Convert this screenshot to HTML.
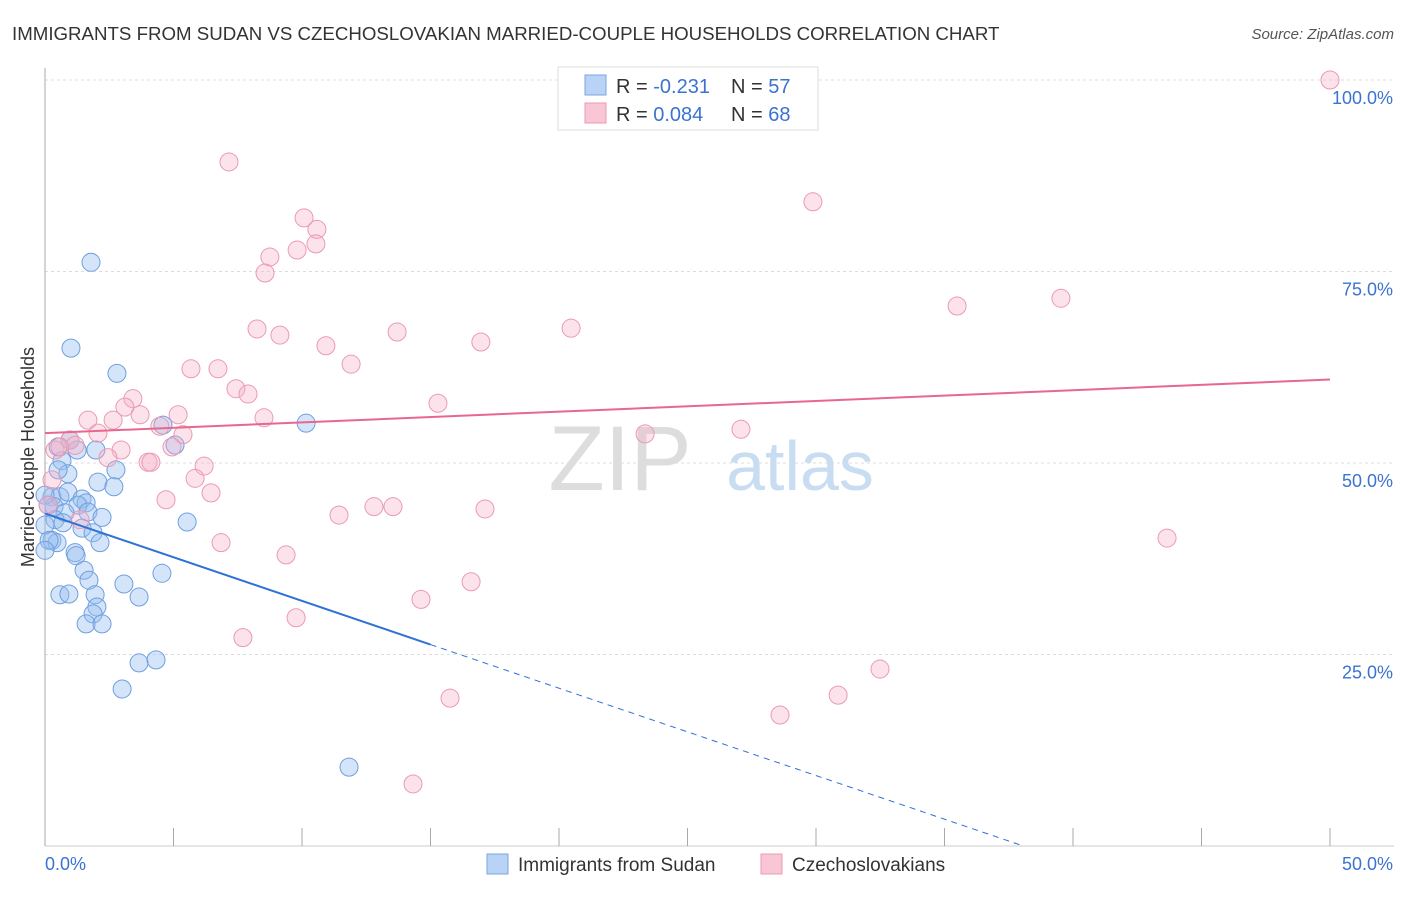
<!DOCTYPE html>
<html><head><meta charset="utf-8"><style>
body{margin:0;background:#fff;font-family:"Liberation Sans",sans-serif}
svg text{font-family:"Liberation Sans",sans-serif}
</style></head><body>
<svg width="1406" height="892">
<text x="12" y="40" font-size="18.7" fill="#333">IMMIGRANTS FROM SUDAN VS CZECHOSLOVAKIAN MARRIED-COUPLE HOUSEHOLDS CORRELATION CHART</text>
<text x="1394" y="39" font-size="15" fill="#555" font-style="italic" text-anchor="end">Source: ZipAtlas.com</text>
<g id="grid"></g>
<text x="620" y="490" font-size="92" fill="#ddd" font-family="Liberation Serif" text-anchor="middle">ZIP</text>
<text x="800" y="490" font-size="70" fill="#c8dcf2" text-anchor="middle">atlas</text>
<g id="marks"></g>
<text transform="translate(34,457) rotate(-90)" font-size="18" fill="#333" text-anchor="middle">Married-couple Households</text>
<g>
<rect x="558" y="67" width="260" height="63" fill="#fff" stroke="#ddd"/>
<rect x="585" y="75" width="21" height="20" fill="#b8d3f5" stroke="#7aa6e0"/>
<rect x="585" y="103" width="21" height="20" fill="#f9c6d5" stroke="#eb9ab2"/>
<text x="616" y="93" font-size="20" fill="#333">R = <tspan fill="#3a73d0">-0.231</tspan><tspan x="731">N = </tspan><tspan fill="#3a73d0">57</tspan></text>
<text x="616" y="121" font-size="20" fill="#333">R = <tspan fill="#3a73d0"> 0.084</tspan><tspan x="731">N = </tspan><tspan fill="#3a73d0">68</tspan></text>
</g>
<g>
<rect x="487" y="854" width="21" height="20" fill="#b8d3f5" stroke="#7aa6e0"/>
<text x="518" y="871" font-size="19" fill="#333">Immigrants from Sudan</text>
<rect x="761" y="854" width="21" height="20" fill="#f9c6d5" stroke="#eb9ab2"/>
<text x="792" y="871" font-size="19" fill="#333">Czechoslovakians</text>
</g>
</svg>
<script>
const yTicks=[25,50,75,100];
const yTickLabels=["25.0%","50.0%","75.0%","100.0%"];
const xTicks=[0,5,10,15,20,25,30,35,40,45,50];
const blueX=[1.79,1.01,2.80,10.16,4.59,5.06,1.25,1.98,0.66,2.76,0.89,2.06,2.68,0.27,0.58,0.89,1.44,1.60,1.28,0.35,1.67,0.78,0.39,0.70,1.44,1.87,2.14,0.27,0.47,1.17,1.21,5.53,1.52,1.71,3.07,4.55,0.58,0.93,1.95,3.66,2.02,1.87,1.60,2.22,3.66,4.32,3.00,11.83,0,0,0.12,0.51,0.97,0.16,0,2.22,0.51];
const blueY=[76.2,65.0,61.7,55.2,54.95,52.35,51.7,51.7,50.3,49.1,48.6,47.5,46.9,45.6,45.6,46.2,45.3,44.8,44.5,44.3,43.6,43.5,42.6,42.2,41.5,40.9,39.6,39.9,39.6,38.3,37.9,42.3,36.0,34.7,34.2,35.6,32.8,32.9,32.8,32.5,31.2,30.3,29.0,29.0,23.9,24.3,20.5,10.3,41.9,45.8,44.5,49.1,53.0,39.9,38.6,42.9,52.1];
const pinkX=[24.94,50,7.16,29.88,10.08,10.58,10.54,9.81,8.75,8.56,35.49,39.53,8.25,9.14,13.70,20.47,10.93,16.96,11.91,5.68,6.73,7.43,7.90,3.42,3.11,15.29,5.18,1.67,2.65,3.70,8.52,4.47,5.37,2.06,0.97,1.17,23.35,27.08,4.94,2.96,0.39,2.45,4.01,4.12,6.19,5.84,6.46,4.71,0.27,0.12,11.44,12.80,13.54,17.12,6.85,9.38,43.66,16.58,14.63,9.77,7.70,32.49,15.76,30.86,28.60,14.32,1.36,0.58];
const pinkY=[100,100,89.3,84.1,82.0,80.5,78.6,77.8,76.9,74.8,70.5,71.5,67.5,66.7,67.1,67.6,65.3,65.8,62.9,62.3,62.3,59.7,59.0,58.4,57.3,57.8,56.3,55.6,55.6,56.3,55.9,54.8,53.7,53.9,53.0,52.3,53.8,54.4,52.1,51.7,51.7,50.7,50.1,50.1,49.6,48.0,46.1,45.2,47.8,44.5,43.2,44.3,44.3,44.0,39.6,38.0,40.2,34.5,32.2,29.8,27.2,23.1,19.3,19.7,17.1,8.1,42.6,52.1];
const blueTrend=[43.4,-1.14]; const pinkTrend=[53.9,0.14];
const X=v=>45+v*25.7, Y=v=>846-v*7.66;
const NS="http://www.w3.org/2000/svg";
function mk(t,a,p){const e=document.createElementNS(NS,t);for(const k in a)e.setAttribute(k,a[k]);p.appendChild(e);return e;}
const grid=document.getElementById('grid'), marks=document.getElementById('marks');
yTicks.forEach((t,i)=>{
 const l=mk('line',{x1:45,x2:1394,y1:Y(t),y2:Y(t),stroke:'#ddd','stroke-dasharray':'3,3'},grid);
 
 
 const tx=mk('text',{x:1393,y:Y(t)+24,'font-size':18,fill:'#3a73d0','text-anchor':'end'},grid);
 tx.textContent=yTickLabels[i];
 
 
});
mk('line',{x1:45,x2:45,y1:68,y2:846,stroke:'#aaa'},grid);
mk('line',{x1:45,x2:1394,y1:846,y2:846,stroke:'#ccc'},grid);
xTicks.forEach(t=>{
 const l=mk('line',{x1:X(t),x2:X(t),y1:828,y2:846,stroke:'#aaa'},grid);
 
 
});
let t0=mk('text',{x:45,y:870,'font-size':18,fill:'#3a73d0'},grid);t0.textContent='0.0%';
let t1=mk('text',{x:1393,y:870,'font-size':18,fill:'#3a73d0','text-anchor':'end'},grid);t1.textContent='50.0%';
function dots(xs,ys,fill,stroke,name){xs.forEach((x,i)=>{
 const c=mk('circle',{cx:X(x),cy:Y(ys[i]),r:9,fill:fill,stroke:stroke,'stroke-width':1},marks);
 
 
});}
dots(blueX,blueY,'rgba(150,190,240,0.4)','#6f9fe0','sudan-point');
dots(pinkX,pinkY,'rgba(245,175,198,0.35)','#eb9ab2','czech-point');
const bEnd=-blueTrend[0]/blueTrend[1];
let bl=mk('line',{x1:X(0),y1:Y(blueTrend[0]),x2:X(15),y2:Y(blueTrend[0]+blueTrend[1]*15),stroke:'#2f72d6','stroke-width':2},marks);


let bd=mk('line',{x1:X(15),y1:Y(blueTrend[0]+blueTrend[1]*15),x2:X(bEnd),y2:Y(0),stroke:'#2f72d6','stroke-width':1,'stroke-dasharray':'6,5'},marks);


let pl=mk('line',{x1:X(0),y1:Y(pinkTrend[0]),x2:X(50),y2:Y(pinkTrend[0]+pinkTrend[1]*50),stroke:'#e8678f','stroke-width':2},marks);


</script>
</body></html>
